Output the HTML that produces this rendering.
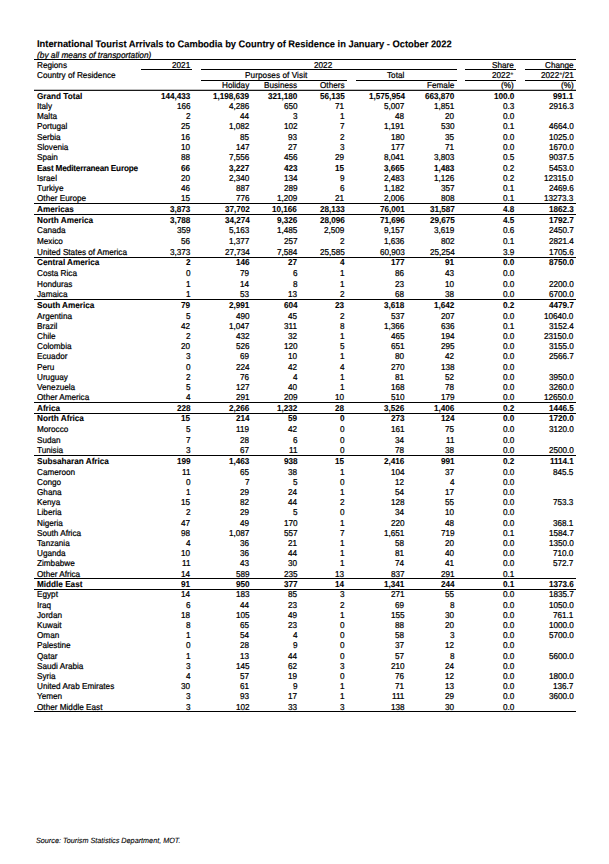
<!DOCTYPE html>
<html><head><meta charset="utf-8"><title>International Tourist Arrivals to Cambodia</title>
<style>
html,body{margin:0;padding:0;background:#fff}
body{width:609px;height:864px;position:relative;overflow:hidden;font-family:"Liberation Sans",sans-serif;color:#000}
.t{position:absolute;white-space:nowrap;font-size:8.18px;line-height:10px;height:10px;-webkit-text-stroke:0.22px #000;transform:rotate(0.03deg) scaleY(1.05);transform-origin:0 7px}
.b{font-weight:bold;-webkit-text-stroke:0.1px #000;letter-spacing:0}
.n{}
.d{letter-spacing:-0.05px}
.nb{font-weight:bold;-webkit-text-stroke:0.1px #000}
.a{-webkit-text-stroke:0;color:#333}
.l{position:absolute;height:1px;background:#000}
</style></head><body>

<div class="t b" style="top:37.6px;left:36.8px;font-size:9.33px;line-height:12px;height:12px">International Tourist Arrivals to Cambodia by Country of Residence in January - October 2022</div>
<div class="t" style="top:49.9px;left:36.6px;font-size:8.3px;font-style:italic">(by all means of transportation)</div>
<div class="l" style="top:59px;left:34px;width:542.0px;height:1px"></div>
<div class="l" style="top:69px;left:141px;width:51.0px;height:1px"></div>
<div class="l" style="top:69px;left:201px;width:256.0px;height:1px"></div>
<div class="l" style="top:69px;left:465px;width:51.0px;height:1px"></div>
<div class="l" style="top:69px;left:525px;width:51.0px;height:1px"></div>
<div class="l" style="top:80px;left:201px;width:146.0px;height:1px"></div>
<div class="l" style="top:80px;left:356px;width:101.0px;height:1px"></div>
<div class="l" style="top:80px;left:465px;width:51.0px;height:1px"></div>
<div class="l" style="top:80px;left:525px;width:51.0px;height:1px"></div>
<div class="l" style="top:89px;left:34px;width:542.0px;height:1px;background:rgba(0,0,0,0.25)"></div>
<div class="l" style="top:90px;left:34px;width:542.0px;height:1px;background:rgba(0,0,0,0.9)"></div>
<div class="t n" style="top:60.60px;left:36.5px">Regions</div>
<div class="t n" style="top:70.80px;left:36.5px">Country of Residence</div>
<div class="t" style="top:60.60px;right:419.2px">2021</div>
<div class="t" style="top:60.60px;left:314.0px">2022</div>
<div class="t n" style="top:70.70px;left:244.5px;letter-spacing:0.07px">Purposes of Visit</div>
<div class="t" style="top:80.70px;right:359.7px">Holiday</div>
<div class="t" style="top:80.70px;right:312.0px">Business</div>
<div class="t" style="top:80.70px;right:264.7px">Others</div>
<div class="t" style="top:70.80px;right:204.6px">Total</div>
<div class="t" style="top:80.80px;right:154.7px">Female</div>
<div class="t" style="top:60.60px;right:95.2px">Share</div>
<div class="t" style="top:70.80px;right:95.2px">2022<span class=a>*</span></div>
<div class="t" style="top:80.80px;right:95.2px">(%)</div>
<div class="t" style="top:60.60px;right:35.6px">Change</div>
<div class="t" style="top:70.80px;right:35.6px">2022<span class=a>*</span>/21</div>
<div class="t" style="top:80.80px;right:35.6px">(%)</div>
<div class="l" style="top:203px;left:34px;width:542.0px;height:1px"></div>
<div class="l" style="top:214px;left:34px;width:542.0px;height:1px"></div>
<div class="l" style="top:257px;left:34px;width:542.0px;height:1px"></div>
<div class="l" style="top:299px;left:34px;width:542.0px;height:1px"></div>
<div class="l" style="top:402px;left:34px;width:542.0px;height:1px"></div>
<div class="l" style="top:413px;left:34px;width:542.0px;height:1px"></div>
<div class="l" style="top:455px;left:34px;width:542.0px;height:1px"></div>
<div class="l" style="top:578px;left:34px;width:542.0px;height:1px"></div>
<div class="l" style="top:589px;left:34px;width:542.0px;height:1px"></div>
<div class="l" style="top:711px;left:34px;width:542.0px;height:1px"></div>
<div class="t nb" style="top:92.00px;left:36.5px">Grand Total</div>
<div class="t d b" style="top:92.00px;right:418.8px">144,433</div>
<div class="t d b" style="top:92.00px;right:359.7px">1,198,639</div>
<div class="t d b" style="top:92.00px;right:312.0px">321,180</div>
<div class="t d b" style="top:92.00px;right:264.7px">56,135</div>
<div class="t d b" style="top:92.00px;right:204.6px">1,575,954</div>
<div class="t d b" style="top:92.00px;right:154.7px">663,870</div>
<div class="t d b" style="top:92.00px;right:95.2px">100.0</div>
<div class="t d b" style="top:92.00px;right:35.6px">991.1</div>
<div class="t n" style="top:102.00px;left:36.5px">Italy</div>
<div class="t d" style="top:102.00px;right:418.8px">166</div>
<div class="t d" style="top:102.00px;right:359.7px">4,286</div>
<div class="t d" style="top:102.00px;right:312.0px">650</div>
<div class="t d" style="top:102.00px;right:264.7px">71</div>
<div class="t d" style="top:102.00px;right:204.6px">5,007</div>
<div class="t d" style="top:102.00px;right:154.7px">1,851</div>
<div class="t d" style="top:102.00px;right:95.2px">0.3</div>
<div class="t d" style="top:102.00px;right:35.6px">2916.3</div>
<div class="t n" style="top:112.00px;left:36.5px">Malta</div>
<div class="t d" style="top:112.00px;right:418.8px">2</div>
<div class="t d" style="top:112.00px;right:359.7px">44</div>
<div class="t d" style="top:112.00px;right:312.0px">3</div>
<div class="t d" style="top:112.00px;right:264.7px">1</div>
<div class="t d" style="top:112.00px;right:204.6px">48</div>
<div class="t d" style="top:112.00px;right:154.7px">20</div>
<div class="t d" style="top:112.00px;right:95.2px">0.0</div>
<div class="t n" style="top:122.00px;left:36.5px">Portugal</div>
<div class="t d" style="top:122.00px;right:418.8px">25</div>
<div class="t d" style="top:122.00px;right:359.7px">1,082</div>
<div class="t d" style="top:122.00px;right:312.0px">102</div>
<div class="t d" style="top:122.00px;right:264.7px">7</div>
<div class="t d" style="top:122.00px;right:204.6px">1,191</div>
<div class="t d" style="top:122.00px;right:154.7px">530</div>
<div class="t d" style="top:122.00px;right:95.2px">0.1</div>
<div class="t d" style="top:122.00px;right:35.6px">4664.0</div>
<div class="t n" style="top:133.00px;left:36.5px">Serbia</div>
<div class="t d" style="top:133.00px;right:418.8px">16</div>
<div class="t d" style="top:133.00px;right:359.7px">85</div>
<div class="t d" style="top:133.00px;right:312.0px">93</div>
<div class="t d" style="top:133.00px;right:264.7px">2</div>
<div class="t d" style="top:133.00px;right:204.6px">180</div>
<div class="t d" style="top:133.00px;right:154.7px">35</div>
<div class="t d" style="top:133.00px;right:95.2px">0.0</div>
<div class="t d" style="top:133.00px;right:35.6px">1025.0</div>
<div class="t n" style="top:143.00px;left:36.5px">Slovenia</div>
<div class="t d" style="top:143.00px;right:418.8px">10</div>
<div class="t d" style="top:143.00px;right:359.7px">147</div>
<div class="t d" style="top:143.00px;right:312.0px">27</div>
<div class="t d" style="top:143.00px;right:264.7px">3</div>
<div class="t d" style="top:143.00px;right:204.6px">177</div>
<div class="t d" style="top:143.00px;right:154.7px">71</div>
<div class="t d" style="top:143.00px;right:95.2px">0.0</div>
<div class="t d" style="top:143.00px;right:35.6px">1670.0</div>
<div class="t n" style="top:153.00px;left:36.5px">Spain</div>
<div class="t d" style="top:153.00px;right:418.8px">88</div>
<div class="t d" style="top:153.00px;right:359.7px">7,556</div>
<div class="t d" style="top:153.00px;right:312.0px">456</div>
<div class="t d" style="top:153.00px;right:264.7px">29</div>
<div class="t d" style="top:153.00px;right:204.6px">8,041</div>
<div class="t d" style="top:153.00px;right:154.7px">3,803</div>
<div class="t d" style="top:153.00px;right:95.2px">0.5</div>
<div class="t d" style="top:153.00px;right:35.6px">9037.5</div>
<div class="t nb" style="top:164.00px;left:36.5px;letter-spacing:-0.2px">East Mediterranean Europe</div>
<div class="t d b" style="top:164.00px;right:418.8px">66</div>
<div class="t d b" style="top:164.00px;right:359.7px">3,227</div>
<div class="t d b" style="top:164.00px;right:312.0px">423</div>
<div class="t d b" style="top:164.00px;right:264.7px">15</div>
<div class="t d b" style="top:164.00px;right:204.6px">3,665</div>
<div class="t d b" style="top:164.00px;right:154.7px">1,483</div>
<div class="t d" style="top:163.50px;right:95.2px">0.2</div>
<div class="t d" style="top:163.50px;right:35.6px">5453.0</div>
<div class="t n" style="top:174.00px;left:36.5px">Israel</div>
<div class="t d" style="top:174.00px;right:418.8px">20</div>
<div class="t d" style="top:174.00px;right:359.7px">2,340</div>
<div class="t d" style="top:174.00px;right:312.0px">134</div>
<div class="t d" style="top:174.00px;right:264.7px">9</div>
<div class="t d" style="top:174.00px;right:204.6px">2,483</div>
<div class="t d" style="top:174.00px;right:154.7px">1,126</div>
<div class="t d" style="top:174.00px;right:95.2px">0.2</div>
<div class="t d" style="top:174.00px;right:35.6px">12315.0</div>
<div class="t n" style="top:184.00px;left:36.5px">Turkiye</div>
<div class="t d" style="top:184.00px;right:418.8px">46</div>
<div class="t d" style="top:184.00px;right:359.7px">887</div>
<div class="t d" style="top:184.00px;right:312.0px">289</div>
<div class="t d" style="top:184.00px;right:264.7px">6</div>
<div class="t d" style="top:184.00px;right:204.6px">1,182</div>
<div class="t d" style="top:184.00px;right:154.7px">357</div>
<div class="t d" style="top:184.00px;right:95.2px">0.1</div>
<div class="t d" style="top:184.00px;right:35.6px">2469.6</div>
<div class="t n" style="top:194.00px;left:36.5px">Other Europe</div>
<div class="t d" style="top:194.00px;right:418.8px">15</div>
<div class="t d" style="top:194.00px;right:359.7px">776</div>
<div class="t d" style="top:194.00px;right:312.0px">1,209</div>
<div class="t d" style="top:194.00px;right:264.7px">21</div>
<div class="t d" style="top:194.00px;right:204.6px">2,006</div>
<div class="t d" style="top:194.00px;right:154.7px">808</div>
<div class="t d" style="top:194.00px;right:95.2px">0.1</div>
<div class="t d" style="top:194.00px;right:35.6px">13273.3</div>
<div class="t nb" style="top:205.00px;left:36.5px">Americas</div>
<div class="t d b" style="top:205.00px;right:418.8px">3,873</div>
<div class="t d b" style="top:205.00px;right:359.7px">37,702</div>
<div class="t d b" style="top:205.00px;right:312.0px">10,166</div>
<div class="t d b" style="top:205.00px;right:264.7px">28,133</div>
<div class="t d b" style="top:205.00px;right:204.6px">76,001</div>
<div class="t d b" style="top:205.00px;right:154.7px">31,587</div>
<div class="t d b" style="top:205.00px;right:95.2px">4.8</div>
<div class="t d b" style="top:205.00px;right:35.6px">1862.3</div>
<div class="t nb" style="top:216.00px;left:36.5px">North America</div>
<div class="t d b" style="top:216.00px;right:418.8px">3,788</div>
<div class="t d b" style="top:216.00px;right:359.7px">34,274</div>
<div class="t d b" style="top:216.00px;right:312.0px">9,326</div>
<div class="t d b" style="top:216.00px;right:264.7px">28,096</div>
<div class="t d b" style="top:216.00px;right:204.6px">71,696</div>
<div class="t d b" style="top:216.00px;right:154.7px">29,675</div>
<div class="t d b" style="top:216.00px;right:95.2px">4.5</div>
<div class="t d b" style="top:216.00px;right:35.6px">1792.7</div>
<div class="t n" style="top:226.00px;left:36.5px">Canada</div>
<div class="t d" style="top:226.00px;right:418.8px">359</div>
<div class="t d" style="top:226.00px;right:359.7px">5,163</div>
<div class="t d" style="top:226.00px;right:312.0px">1,485</div>
<div class="t d" style="top:226.00px;right:264.7px">2,509</div>
<div class="t d" style="top:226.00px;right:204.6px">9,157</div>
<div class="t d" style="top:226.00px;right:154.7px">3,619</div>
<div class="t d" style="top:226.00px;right:95.2px">0.6</div>
<div class="t d" style="top:226.00px;right:35.6px">2450.7</div>
<div class="t n" style="top:237.00px;left:36.5px">Mexico</div>
<div class="t d" style="top:237.00px;right:418.8px">56</div>
<div class="t d" style="top:237.00px;right:359.7px">1,377</div>
<div class="t d" style="top:237.00px;right:312.0px">257</div>
<div class="t d" style="top:237.00px;right:264.7px">2</div>
<div class="t d" style="top:237.00px;right:204.6px">1,636</div>
<div class="t d" style="top:237.00px;right:154.7px">802</div>
<div class="t d" style="top:237.00px;right:95.2px">0.1</div>
<div class="t d" style="top:237.00px;right:35.6px">2821.4</div>
<div class="t n" style="top:248.00px;left:36.5px">United States of America</div>
<div class="t d" style="top:248.00px;right:418.8px">3,373</div>
<div class="t d" style="top:248.00px;right:359.7px">27,734</div>
<div class="t d" style="top:248.00px;right:312.0px">7,584</div>
<div class="t d" style="top:248.00px;right:264.7px">25,585</div>
<div class="t d" style="top:248.00px;right:204.6px">60,903</div>
<div class="t d" style="top:248.00px;right:154.7px">25,254</div>
<div class="t d" style="top:248.00px;right:95.2px">3.9</div>
<div class="t d" style="top:248.00px;right:35.6px">1705.6</div>
<div class="t nb" style="top:258.00px;left:36.5px">Central America</div>
<div class="t d b" style="top:258.00px;right:418.8px">2</div>
<div class="t d b" style="top:258.00px;right:359.7px">146</div>
<div class="t d b" style="top:258.00px;right:312.0px">27</div>
<div class="t d b" style="top:258.00px;right:264.7px">4</div>
<div class="t d b" style="top:258.00px;right:204.6px">177</div>
<div class="t d b" style="top:258.00px;right:154.7px">91</div>
<div class="t d b" style="top:258.00px;right:95.2px">0.0</div>
<div class="t d b" style="top:258.00px;right:35.6px">8750.0</div>
<div class="t n" style="top:269.00px;left:36.5px">Costa Rica</div>
<div class="t d" style="top:269.00px;right:418.8px">0</div>
<div class="t d" style="top:269.00px;right:359.7px">79</div>
<div class="t d" style="top:269.00px;right:312.0px">6</div>
<div class="t d" style="top:269.00px;right:264.7px">1</div>
<div class="t d" style="top:269.00px;right:204.6px">86</div>
<div class="t d" style="top:269.00px;right:154.7px">43</div>
<div class="t d" style="top:269.00px;right:95.2px">0.0</div>
<div class="t n" style="top:280.00px;left:36.5px">Honduras</div>
<div class="t d" style="top:280.00px;right:418.8px">1</div>
<div class="t d" style="top:280.00px;right:359.7px">14</div>
<div class="t d" style="top:280.00px;right:312.0px">8</div>
<div class="t d" style="top:280.00px;right:264.7px">1</div>
<div class="t d" style="top:280.00px;right:204.6px">23</div>
<div class="t d" style="top:280.00px;right:154.7px">10</div>
<div class="t d" style="top:280.00px;right:95.2px">0.0</div>
<div class="t d" style="top:280.00px;right:35.6px">2200.0</div>
<div class="t n" style="top:290.00px;left:36.5px">Jamaica</div>
<div class="t d" style="top:290.00px;right:418.8px">1</div>
<div class="t d" style="top:290.00px;right:359.7px">53</div>
<div class="t d" style="top:290.00px;right:312.0px">13</div>
<div class="t d" style="top:290.00px;right:264.7px">2</div>
<div class="t d" style="top:290.00px;right:204.6px">68</div>
<div class="t d" style="top:290.00px;right:154.7px">38</div>
<div class="t d" style="top:290.00px;right:95.2px">0.0</div>
<div class="t d" style="top:290.00px;right:35.6px">6700.0</div>
<div class="t nb" style="top:301.00px;left:36.5px">South America</div>
<div class="t d b" style="top:301.00px;right:418.8px">79</div>
<div class="t d b" style="top:301.00px;right:359.7px">2,991</div>
<div class="t d b" style="top:301.00px;right:312.0px">604</div>
<div class="t d b" style="top:301.00px;right:264.7px">23</div>
<div class="t d b" style="top:301.00px;right:204.6px">3,618</div>
<div class="t d b" style="top:301.00px;right:154.7px">1,642</div>
<div class="t d b" style="top:301.00px;right:95.2px">0.2</div>
<div class="t d b" style="top:301.00px;right:35.6px">4479.7</div>
<div class="t n" style="top:312.00px;left:36.5px">Argentina</div>
<div class="t d" style="top:312.00px;right:418.8px">5</div>
<div class="t d" style="top:312.00px;right:359.7px">490</div>
<div class="t d" style="top:312.00px;right:312.0px">45</div>
<div class="t d" style="top:312.00px;right:264.7px">2</div>
<div class="t d" style="top:312.00px;right:204.6px">537</div>
<div class="t d" style="top:312.00px;right:154.7px">207</div>
<div class="t d" style="top:312.00px;right:95.2px">0.0</div>
<div class="t d" style="top:312.00px;right:35.6px">10640.0</div>
<div class="t n" style="top:322.00px;left:36.5px">Brazil</div>
<div class="t d" style="top:322.00px;right:418.8px">42</div>
<div class="t d" style="top:322.00px;right:359.7px">1,047</div>
<div class="t d" style="top:322.00px;right:312.0px">311</div>
<div class="t d" style="top:322.00px;right:264.7px">8</div>
<div class="t d" style="top:322.00px;right:204.6px">1,366</div>
<div class="t d" style="top:322.00px;right:154.7px">636</div>
<div class="t d" style="top:322.00px;right:95.2px">0.1</div>
<div class="t d" style="top:322.00px;right:35.6px">3152.4</div>
<div class="t n" style="top:332.00px;left:36.5px">Chile</div>
<div class="t d" style="top:332.00px;right:418.8px">2</div>
<div class="t d" style="top:332.00px;right:359.7px">432</div>
<div class="t d" style="top:332.00px;right:312.0px">32</div>
<div class="t d" style="top:332.00px;right:264.7px">1</div>
<div class="t d" style="top:332.00px;right:204.6px">465</div>
<div class="t d" style="top:332.00px;right:154.7px">194</div>
<div class="t d" style="top:332.00px;right:95.2px">0.0</div>
<div class="t d" style="top:332.00px;right:35.6px">23150.0</div>
<div class="t n" style="top:342.00px;left:36.5px">Colombia</div>
<div class="t d" style="top:342.00px;right:418.8px">20</div>
<div class="t d" style="top:342.00px;right:359.7px">526</div>
<div class="t d" style="top:342.00px;right:312.0px">120</div>
<div class="t d" style="top:342.00px;right:264.7px">5</div>
<div class="t d" style="top:342.00px;right:204.6px">651</div>
<div class="t d" style="top:342.00px;right:154.7px">295</div>
<div class="t d" style="top:342.00px;right:95.2px">0.0</div>
<div class="t d" style="top:342.00px;right:35.6px">3155.0</div>
<div class="t n" style="top:352.00px;left:36.5px">Ecuador</div>
<div class="t d" style="top:352.00px;right:418.8px">3</div>
<div class="t d" style="top:352.00px;right:359.7px">69</div>
<div class="t d" style="top:352.00px;right:312.0px">10</div>
<div class="t d" style="top:352.00px;right:264.7px">1</div>
<div class="t d" style="top:352.00px;right:204.6px">80</div>
<div class="t d" style="top:352.00px;right:154.7px">42</div>
<div class="t d" style="top:352.00px;right:95.2px">0.0</div>
<div class="t d" style="top:352.00px;right:35.6px">2566.7</div>
<div class="t n" style="top:363.00px;left:36.5px">Peru</div>
<div class="t d" style="top:363.00px;right:418.8px">0</div>
<div class="t d" style="top:363.00px;right:359.7px">224</div>
<div class="t d" style="top:363.00px;right:312.0px">42</div>
<div class="t d" style="top:363.00px;right:264.7px">4</div>
<div class="t d" style="top:363.00px;right:204.6px">270</div>
<div class="t d" style="top:363.00px;right:154.7px">138</div>
<div class="t d" style="top:363.00px;right:95.2px">0.0</div>
<div class="t n" style="top:373.00px;left:36.5px">Uruguay</div>
<div class="t d" style="top:373.00px;right:418.8px">2</div>
<div class="t d" style="top:373.00px;right:359.7px">76</div>
<div class="t d" style="top:373.00px;right:312.0px">4</div>
<div class="t d" style="top:373.00px;right:264.7px">1</div>
<div class="t d" style="top:373.00px;right:204.6px">81</div>
<div class="t d" style="top:373.00px;right:154.7px">52</div>
<div class="t d" style="top:373.00px;right:95.2px">0.0</div>
<div class="t d" style="top:373.00px;right:35.6px">3950.0</div>
<div class="t n" style="top:383.00px;left:36.5px">Venezuela</div>
<div class="t d" style="top:383.00px;right:418.8px">5</div>
<div class="t d" style="top:383.00px;right:359.7px">127</div>
<div class="t d" style="top:383.00px;right:312.0px">40</div>
<div class="t d" style="top:383.00px;right:264.7px">1</div>
<div class="t d" style="top:383.00px;right:204.6px">168</div>
<div class="t d" style="top:383.00px;right:154.7px">78</div>
<div class="t d" style="top:383.00px;right:95.2px">0.0</div>
<div class="t d" style="top:383.00px;right:35.6px">3260.0</div>
<div class="t n" style="top:393.00px;left:36.5px">Other America</div>
<div class="t d" style="top:393.00px;right:418.8px">4</div>
<div class="t d" style="top:393.00px;right:359.7px">291</div>
<div class="t d" style="top:393.00px;right:312.0px">209</div>
<div class="t d" style="top:393.00px;right:264.7px">10</div>
<div class="t d" style="top:393.00px;right:204.6px">510</div>
<div class="t d" style="top:393.00px;right:154.7px">179</div>
<div class="t d" style="top:393.00px;right:95.2px">0.0</div>
<div class="t d" style="top:393.00px;right:35.6px">12650.0</div>
<div class="t nb" style="top:404.00px;left:36.5px">Africa</div>
<div class="t d b" style="top:404.00px;right:418.8px">228</div>
<div class="t d b" style="top:404.00px;right:359.7px">2,266</div>
<div class="t d b" style="top:404.00px;right:312.0px">1,232</div>
<div class="t d b" style="top:404.00px;right:264.7px">28</div>
<div class="t d b" style="top:404.00px;right:204.6px">3,526</div>
<div class="t d b" style="top:404.00px;right:154.7px">1,406</div>
<div class="t d b" style="top:404.00px;right:95.2px">0.2</div>
<div class="t d b" style="top:404.00px;right:35.6px">1446.5</div>
<div class="t nb" style="top:414.00px;left:36.5px">North Africa</div>
<div class="t d b" style="top:414.00px;right:418.8px">15</div>
<div class="t d b" style="top:414.00px;right:359.7px">214</div>
<div class="t d b" style="top:414.00px;right:312.0px">59</div>
<div class="t d b" style="top:414.00px;right:264.7px">0</div>
<div class="t d b" style="top:414.00px;right:204.6px">273</div>
<div class="t d b" style="top:414.00px;right:154.7px">124</div>
<div class="t d b" style="top:414.00px;right:95.2px">0.0</div>
<div class="t d b" style="top:414.00px;right:35.6px">1720.0</div>
<div class="t n" style="top:425.00px;left:36.5px">Morocco</div>
<div class="t d" style="top:425.00px;right:418.8px">5</div>
<div class="t d" style="top:425.00px;right:359.7px">119</div>
<div class="t d" style="top:425.00px;right:312.0px">42</div>
<div class="t d" style="top:425.00px;right:264.7px">0</div>
<div class="t d" style="top:425.00px;right:204.6px">161</div>
<div class="t d" style="top:425.00px;right:154.7px">75</div>
<div class="t d" style="top:425.00px;right:95.2px">0.0</div>
<div class="t d" style="top:425.00px;right:35.6px">3120.0</div>
<div class="t n" style="top:436.00px;left:36.5px">Sudan</div>
<div class="t d" style="top:436.00px;right:418.8px">7</div>
<div class="t d" style="top:436.00px;right:359.7px">28</div>
<div class="t d" style="top:436.00px;right:312.0px">6</div>
<div class="t d" style="top:436.00px;right:264.7px">0</div>
<div class="t d" style="top:436.00px;right:204.6px">34</div>
<div class="t d" style="top:436.00px;right:154.7px">11</div>
<div class="t d" style="top:436.00px;right:95.2px">0.0</div>
<div class="t n" style="top:446.00px;left:36.5px">Tunisia</div>
<div class="t d" style="top:446.00px;right:418.8px">3</div>
<div class="t d" style="top:446.00px;right:359.7px">67</div>
<div class="t d" style="top:446.00px;right:312.0px">11</div>
<div class="t d" style="top:446.00px;right:264.7px">0</div>
<div class="t d" style="top:446.00px;right:204.6px">78</div>
<div class="t d" style="top:446.00px;right:154.7px">38</div>
<div class="t d" style="top:446.00px;right:95.2px">0.0</div>
<div class="t d" style="top:446.00px;right:35.6px">2500.0</div>
<div class="t nb" style="top:457.00px;left:36.5px">Subsaharan Africa</div>
<div class="t d b" style="top:457.00px;right:418.8px">199</div>
<div class="t d b" style="top:457.00px;right:359.7px">1,463</div>
<div class="t d b" style="top:457.00px;right:312.0px">938</div>
<div class="t d b" style="top:457.00px;right:264.7px">15</div>
<div class="t d b" style="top:457.00px;right:204.6px">2,416</div>
<div class="t d b" style="top:457.00px;right:154.7px">991</div>
<div class="t d b" style="top:457.00px;right:95.2px">0.2</div>
<div class="t d b" style="top:457.00px;right:35.6px">1114.1</div>
<div class="t n" style="top:468.00px;left:36.5px">Cameroon</div>
<div class="t d" style="top:468.00px;right:418.8px">11</div>
<div class="t d" style="top:468.00px;right:359.7px">65</div>
<div class="t d" style="top:468.00px;right:312.0px">38</div>
<div class="t d" style="top:468.00px;right:264.7px">1</div>
<div class="t d" style="top:468.00px;right:204.6px">104</div>
<div class="t d" style="top:468.00px;right:154.7px">37</div>
<div class="t d" style="top:468.00px;right:95.2px">0.0</div>
<div class="t d" style="top:468.00px;right:35.6px">845.5</div>
<div class="t n" style="top:478.00px;left:36.5px">Congo</div>
<div class="t d" style="top:478.00px;right:418.8px">0</div>
<div class="t d" style="top:478.00px;right:359.7px">7</div>
<div class="t d" style="top:478.00px;right:312.0px">5</div>
<div class="t d" style="top:478.00px;right:264.7px">0</div>
<div class="t d" style="top:478.00px;right:204.6px">12</div>
<div class="t d" style="top:478.00px;right:154.7px">4</div>
<div class="t d" style="top:478.00px;right:95.2px">0.0</div>
<div class="t n" style="top:488.00px;left:36.5px">Ghana</div>
<div class="t d" style="top:488.00px;right:418.8px">1</div>
<div class="t d" style="top:488.00px;right:359.7px">29</div>
<div class="t d" style="top:488.00px;right:312.0px">24</div>
<div class="t d" style="top:488.00px;right:264.7px">1</div>
<div class="t d" style="top:488.00px;right:204.6px">54</div>
<div class="t d" style="top:488.00px;right:154.7px">17</div>
<div class="t d" style="top:488.00px;right:95.2px">0.0</div>
<div class="t n" style="top:498.00px;left:36.5px">Kenya</div>
<div class="t d" style="top:498.00px;right:418.8px">15</div>
<div class="t d" style="top:498.00px;right:359.7px">82</div>
<div class="t d" style="top:498.00px;right:312.0px">44</div>
<div class="t d" style="top:498.00px;right:264.7px">2</div>
<div class="t d" style="top:498.00px;right:204.6px">128</div>
<div class="t d" style="top:498.00px;right:154.7px">55</div>
<div class="t d" style="top:498.00px;right:95.2px">0.0</div>
<div class="t d" style="top:498.00px;right:35.6px">753.3</div>
<div class="t n" style="top:508.00px;left:36.5px">Liberia</div>
<div class="t d" style="top:508.00px;right:418.8px">2</div>
<div class="t d" style="top:508.00px;right:359.7px">29</div>
<div class="t d" style="top:508.00px;right:312.0px">5</div>
<div class="t d" style="top:508.00px;right:264.7px">0</div>
<div class="t d" style="top:508.00px;right:204.6px">34</div>
<div class="t d" style="top:508.00px;right:154.7px">10</div>
<div class="t d" style="top:508.00px;right:95.2px">0.0</div>
<div class="t n" style="top:519.00px;left:36.5px">Nigeria</div>
<div class="t d" style="top:519.00px;right:418.8px">47</div>
<div class="t d" style="top:519.00px;right:359.7px">49</div>
<div class="t d" style="top:519.00px;right:312.0px">170</div>
<div class="t d" style="top:519.00px;right:264.7px">1</div>
<div class="t d" style="top:519.00px;right:204.6px">220</div>
<div class="t d" style="top:519.00px;right:154.7px">48</div>
<div class="t d" style="top:519.00px;right:95.2px">0.0</div>
<div class="t d" style="top:519.00px;right:35.6px">368.1</div>
<div class="t n" style="top:529.00px;left:36.5px">South Africa</div>
<div class="t d" style="top:529.00px;right:418.8px">98</div>
<div class="t d" style="top:529.00px;right:359.7px">1,087</div>
<div class="t d" style="top:529.00px;right:312.0px">557</div>
<div class="t d" style="top:529.00px;right:264.7px">7</div>
<div class="t d" style="top:529.00px;right:204.6px">1,651</div>
<div class="t d" style="top:529.00px;right:154.7px">719</div>
<div class="t d" style="top:529.00px;right:95.2px">0.1</div>
<div class="t d" style="top:529.00px;right:35.6px">1584.7</div>
<div class="t n" style="top:539.00px;left:36.5px">Tanzania</div>
<div class="t d" style="top:539.00px;right:418.8px">4</div>
<div class="t d" style="top:539.00px;right:359.7px">36</div>
<div class="t d" style="top:539.00px;right:312.0px">21</div>
<div class="t d" style="top:539.00px;right:264.7px">1</div>
<div class="t d" style="top:539.00px;right:204.6px">58</div>
<div class="t d" style="top:539.00px;right:154.7px">20</div>
<div class="t d" style="top:539.00px;right:95.2px">0.0</div>
<div class="t d" style="top:539.00px;right:35.6px">1350.0</div>
<div class="t n" style="top:549.00px;left:36.5px">Uganda</div>
<div class="t d" style="top:549.00px;right:418.8px">10</div>
<div class="t d" style="top:549.00px;right:359.7px">36</div>
<div class="t d" style="top:549.00px;right:312.0px">44</div>
<div class="t d" style="top:549.00px;right:264.7px">1</div>
<div class="t d" style="top:549.00px;right:204.6px">81</div>
<div class="t d" style="top:549.00px;right:154.7px">40</div>
<div class="t d" style="top:549.00px;right:95.2px">0.0</div>
<div class="t d" style="top:549.00px;right:35.6px">710.0</div>
<div class="t n" style="top:559.00px;left:36.5px">Zimbabwe</div>
<div class="t d" style="top:559.00px;right:418.8px">11</div>
<div class="t d" style="top:559.00px;right:359.7px">43</div>
<div class="t d" style="top:559.00px;right:312.0px">30</div>
<div class="t d" style="top:559.00px;right:264.7px">1</div>
<div class="t d" style="top:559.00px;right:204.6px">74</div>
<div class="t d" style="top:559.00px;right:154.7px">41</div>
<div class="t d" style="top:559.00px;right:95.2px">0.0</div>
<div class="t d" style="top:559.00px;right:35.6px">572.7</div>
<div class="t n" style="top:570.00px;left:36.5px">Other Africa</div>
<div class="t d" style="top:570.00px;right:418.8px">14</div>
<div class="t d" style="top:570.00px;right:359.7px">589</div>
<div class="t d" style="top:570.00px;right:312.0px">235</div>
<div class="t d" style="top:570.00px;right:264.7px">13</div>
<div class="t d" style="top:570.00px;right:204.6px">837</div>
<div class="t d" style="top:570.00px;right:154.7px">291</div>
<div class="t d" style="top:570.00px;right:95.2px">0.1</div>
<div class="t nb" style="top:580.00px;left:36.5px">Middle East</div>
<div class="t d b" style="top:580.00px;right:418.8px">91</div>
<div class="t d b" style="top:580.00px;right:359.7px">950</div>
<div class="t d b" style="top:580.00px;right:312.0px">377</div>
<div class="t d b" style="top:580.00px;right:264.7px">14</div>
<div class="t d b" style="top:580.00px;right:204.6px">1,341</div>
<div class="t d b" style="top:580.00px;right:154.7px">244</div>
<div class="t d b" style="top:580.00px;right:95.2px">0.1</div>
<div class="t d b" style="top:580.00px;right:35.6px">1373.6</div>
<div class="t n" style="top:590.00px;left:36.5px">Egypt</div>
<div class="t d" style="top:590.00px;right:418.8px">14</div>
<div class="t d" style="top:590.00px;right:359.7px">183</div>
<div class="t d" style="top:590.00px;right:312.0px">85</div>
<div class="t d" style="top:590.00px;right:264.7px">3</div>
<div class="t d" style="top:590.00px;right:204.6px">271</div>
<div class="t d" style="top:590.00px;right:154.7px">55</div>
<div class="t d" style="top:590.00px;right:95.2px">0.0</div>
<div class="t d" style="top:590.00px;right:35.6px">1835.7</div>
<div class="t n" style="top:601.00px;left:36.5px">Iraq</div>
<div class="t d" style="top:601.00px;right:418.8px">6</div>
<div class="t d" style="top:601.00px;right:359.7px">44</div>
<div class="t d" style="top:601.00px;right:312.0px">23</div>
<div class="t d" style="top:601.00px;right:264.7px">2</div>
<div class="t d" style="top:601.00px;right:204.6px">69</div>
<div class="t d" style="top:601.00px;right:154.7px">8</div>
<div class="t d" style="top:601.00px;right:95.2px">0.0</div>
<div class="t d" style="top:601.00px;right:35.6px">1050.0</div>
<div class="t n" style="top:611.00px;left:36.5px">Jordan</div>
<div class="t d" style="top:611.00px;right:418.8px">18</div>
<div class="t d" style="top:611.00px;right:359.7px">105</div>
<div class="t d" style="top:611.00px;right:312.0px">49</div>
<div class="t d" style="top:611.00px;right:264.7px">1</div>
<div class="t d" style="top:611.00px;right:204.6px">155</div>
<div class="t d" style="top:611.00px;right:154.7px">30</div>
<div class="t d" style="top:611.00px;right:95.2px">0.0</div>
<div class="t d" style="top:611.00px;right:35.6px">761.1</div>
<div class="t n" style="top:621.00px;left:36.5px">Kuwait</div>
<div class="t d" style="top:621.00px;right:418.8px">8</div>
<div class="t d" style="top:621.00px;right:359.7px">65</div>
<div class="t d" style="top:621.00px;right:312.0px">23</div>
<div class="t d" style="top:621.00px;right:264.7px">0</div>
<div class="t d" style="top:621.00px;right:204.6px">88</div>
<div class="t d" style="top:621.00px;right:154.7px">20</div>
<div class="t d" style="top:621.00px;right:95.2px">0.0</div>
<div class="t d" style="top:621.00px;right:35.6px">1000.0</div>
<div class="t n" style="top:631.00px;left:36.5px">Oman</div>
<div class="t d" style="top:631.00px;right:418.8px">1</div>
<div class="t d" style="top:631.00px;right:359.7px">54</div>
<div class="t d" style="top:631.00px;right:312.0px">4</div>
<div class="t d" style="top:631.00px;right:264.7px">0</div>
<div class="t d" style="top:631.00px;right:204.6px">58</div>
<div class="t d" style="top:631.00px;right:154.7px">3</div>
<div class="t d" style="top:631.00px;right:95.2px">0.0</div>
<div class="t d" style="top:631.00px;right:35.6px">5700.0</div>
<div class="t n" style="top:641.00px;left:36.5px">Palestine</div>
<div class="t d" style="top:641.00px;right:418.8px">0</div>
<div class="t d" style="top:641.00px;right:359.7px">28</div>
<div class="t d" style="top:641.00px;right:312.0px">9</div>
<div class="t d" style="top:641.00px;right:264.7px">0</div>
<div class="t d" style="top:641.00px;right:204.6px">37</div>
<div class="t d" style="top:641.00px;right:154.7px">12</div>
<div class="t d" style="top:641.00px;right:95.2px">0.0</div>
<div class="t n" style="top:652.00px;left:36.5px">Qatar</div>
<div class="t d" style="top:652.00px;right:418.8px">1</div>
<div class="t d" style="top:652.00px;right:359.7px">13</div>
<div class="t d" style="top:652.00px;right:312.0px">44</div>
<div class="t d" style="top:652.00px;right:264.7px">0</div>
<div class="t d" style="top:652.00px;right:204.6px">57</div>
<div class="t d" style="top:652.00px;right:154.7px">8</div>
<div class="t d" style="top:652.00px;right:95.2px">0.0</div>
<div class="t d" style="top:652.00px;right:35.6px">5600.0</div>
<div class="t n" style="top:662.00px;left:36.5px">Saudi Arabia</div>
<div class="t d" style="top:662.00px;right:418.8px">3</div>
<div class="t d" style="top:662.00px;right:359.7px">145</div>
<div class="t d" style="top:662.00px;right:312.0px">62</div>
<div class="t d" style="top:662.00px;right:264.7px">3</div>
<div class="t d" style="top:662.00px;right:204.6px">210</div>
<div class="t d" style="top:662.00px;right:154.7px">24</div>
<div class="t d" style="top:662.00px;right:95.2px">0.0</div>
<div class="t n" style="top:672.00px;left:36.5px">Syria</div>
<div class="t d" style="top:672.00px;right:418.8px">4</div>
<div class="t d" style="top:672.00px;right:359.7px">57</div>
<div class="t d" style="top:672.00px;right:312.0px">19</div>
<div class="t d" style="top:672.00px;right:264.7px">0</div>
<div class="t d" style="top:672.00px;right:204.6px">76</div>
<div class="t d" style="top:672.00px;right:154.7px">12</div>
<div class="t d" style="top:672.00px;right:95.2px">0.0</div>
<div class="t d" style="top:672.00px;right:35.6px">1800.0</div>
<div class="t n" style="top:682.00px;left:36.5px">United Arab Emirates</div>
<div class="t d" style="top:682.00px;right:418.8px">30</div>
<div class="t d" style="top:682.00px;right:359.7px">61</div>
<div class="t d" style="top:682.00px;right:312.0px">9</div>
<div class="t d" style="top:682.00px;right:264.7px">1</div>
<div class="t d" style="top:682.00px;right:204.6px">71</div>
<div class="t d" style="top:682.00px;right:154.7px">13</div>
<div class="t d" style="top:682.00px;right:95.2px">0.0</div>
<div class="t d" style="top:682.00px;right:35.6px">136.7</div>
<div class="t n" style="top:692.00px;left:36.5px">Yemen</div>
<div class="t d" style="top:692.00px;right:418.8px">3</div>
<div class="t d" style="top:692.00px;right:359.7px">93</div>
<div class="t d" style="top:692.00px;right:312.0px">17</div>
<div class="t d" style="top:692.00px;right:264.7px">1</div>
<div class="t d" style="top:692.00px;right:204.6px">111</div>
<div class="t d" style="top:692.00px;right:154.7px">29</div>
<div class="t d" style="top:692.00px;right:95.2px">0.0</div>
<div class="t d" style="top:692.00px;right:35.6px">3600.0</div>
<div class="t n" style="top:703.00px;left:36.5px">Other Middle East</div>
<div class="t d" style="top:703.00px;right:418.8px">3</div>
<div class="t d" style="top:703.00px;right:359.7px">102</div>
<div class="t d" style="top:703.00px;right:312.0px">33</div>
<div class="t d" style="top:703.00px;right:264.7px">3</div>
<div class="t d" style="top:703.00px;right:204.6px">138</div>
<div class="t d" style="top:703.00px;right:154.7px">30</div>
<div class="t d" style="top:703.00px;right:95.2px">0.0</div>
<div class="t" style="top:836.1px;left:35.8px;font-size:7.24px;font-style:italic;-webkit-text-stroke:0.1px #000">Source: Tourism Statistics Department, MOT.</div>
</body></html>
